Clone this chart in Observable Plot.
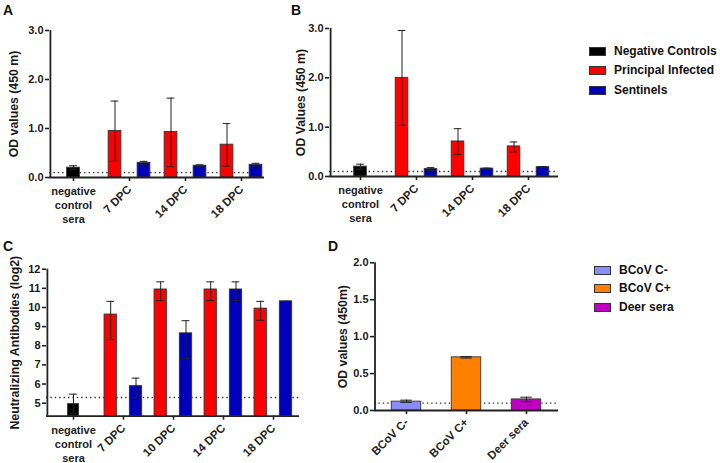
<!DOCTYPE html>
<html><head><meta charset="utf-8">
<script src="https://cdn.jsdelivr.net/npm/d3@7"></script>
<script src="https://cdn.jsdelivr.net/npm/@observablehq/plot@0.6"></script>
<style>
body{margin:0;background:#fff;}
#root{position:relative;width:720px;height:463px;font-family:"Liberation Sans",Arial,sans-serif;font-weight:bold;overflow:hidden;background:#fff;color:#111;}
.panel{position:absolute;}
.letter{position:absolute;font-size:14px;font-weight:bold;line-height:14px;}
.lrow{position:absolute;font-size:12px;font-weight:bold;line-height:12px;white-space:nowrap;color:#111;}
.lrow .sw{position:absolute;width:15px;height:7px;border:1px solid #333;}
.panel svg [aria-label*="axis"] line,.panel svg [aria-label*="axis"] path{stroke-width:1.6px;stroke:#222;}
</style></head><body><div id="root"></div>
<script>
// ---------- data ----------
const groupsAB = ["negative\ncontrol\nsera", "7 DPC", "14 DPC", "18 DPC"];
const groupsC = ["negative\ncontrol\nsera", "7 DPC", "10 DPC", "14 DPC", "18 DPC"];
const seriesNames = ["Negative Controls", "Principal Infected", "Sentinels"];
const seriesColors = ["#000000", "#ff0000", "#0000b8"];

// Panel A  OD values (450 m)
const aNeg = [0.20], aNegLo = [0.17], aNegHi = [0.24];
const aPrin = [0.95, 0.93, 0.67], aPrinLo = [0.33, 0.22, 0.23], aPrinHi = [1.56, 1.62, 1.10];
const aSent = [0.30, 0.24, 0.26], aSentLo = [0.27, 0.22, 0.23], aSentHi = [0.33, 0.26, 0.29];
const aCutoff = 0.1;

// Panel B  OD Values (450 m)
const bNeg = [0.20], bNegLo = [0.15], bNegHi = [0.25];
const bPrin = [2.00, 0.71, 0.61], bPrinLo = [1.04, 0.45, 0.50], bPrinHi = [2.96, 0.97, 0.70];
const bSent = [0.15, 0.16, 0.19], bSentLo = [0.12, 0.15, 0.18], bSentHi = [0.18, 0.17, 0.20];
const bCutoff = 0.1;

// Panel C  Neutralizing Antibodies (log2)
const cNeg = [4.95], cNegLo = [4.45], cNegHi = [5.47];
const cPrin = [9.63, 10.94, 10.94, 9.94], cPrinLo = [8.32, 10.36, 10.36, 9.33], cPrinHi = [10.32, 11.34, 11.34, 10.32];
const cSent = [5.89, 8.65, 10.94, 10.32], cSentLo = [5.28, 7.32, 10.36, 10.32], cSentHi = [6.31, 9.31, 11.34, 10.32];
const cCutoff = 5.3;
const cAxisMin = 4.32;

// Panel D  OD values (450m)
const dCats = ["BCoV C-", "BCoV C+", "Deer sera"];
const dVals = [0.12, 0.72, 0.15], dLo = [0.11, 0.71, 0.12], dHi = [0.14, 0.73, 0.18];
const dColors = ["#8c8cf6", "#ff8000", "#c000c0"];
const dCutoff = 0.1;

// tick labels
const yTicksAB = [0, 1, 2, 3];
const yTicksC = [5, 6, 7, 8, 9, 10, 11, 12];
const yTicksD = [0, 0.5, 1, 1.5, 2];

// ---------- helpers ----------
const root = document.getElementById("root");
const FONT = "Liberation Sans, Arial, sans-serif";

function rowsOf(groups, mean, lo, hi) {
  return groups.map((g, i) => ({g, v: mean[i], lo: lo[i], hi: hi[i]}));
}

function makePanel(cfg) {
  const {left, top, width, height, mt, mb, ml, mr, groups, yDomain, yTicks, yFmt,
         yLabel, labelDx, labelDy = 0, cutoff, po, series, capW, rotateAll} = cfg;
  const plotW = width - ml - mr;
  const step = plotW / (groups.length + 2 * po);
  const base = yDomain[0];
  const marks = [];
  marks.push(Plot.ruleY([cutoff], {stroke: "#333", strokeWidth: 1.4, strokeDasharray: "1.4,3"}));
  for (const s of series) {
    const data = rowsOf(s.groups, s.mean, s.lo, s.hi).map((d, i) => ({...d, c: s.colors ? s.colors[i] : s.color}));
    const ins = (step - s.barW) / 2;
    const cins = (step - capW) / 2;
    marks.push(Plot.barY(data, {x: "g", y1: () => base, y2: "v", fill: "c", stroke: "#333", strokeWidth: 0.9,
      dx: s.dx, insetLeft: ins, insetRight: ins}));
    marks.push(Plot.ruleX(data, {x: "g", y1: "lo", y2: "hi", dx: s.dx, stroke: "#222", strokeWidth: 1}));
    marks.push(Plot.tickY(data, {x: "g", y: "hi", dx: s.dx, stroke: "#222", strokeWidth: 1, insetLeft: cins, insetRight: cins}));
    marks.push(Plot.tickY(data, {x: "g", y: "lo", dx: s.dx, stroke: "#222", strokeWidth: 1, insetLeft: cins, insetRight: cins}));
  }
  // axis lines
  marks.push(Plot.ruleY([base], {stroke: "#222", strokeWidth: 1.8}));
  marks.push(Plot.ruleX(groups.slice(0, 1), {x: d => d, dx: -step * (po + 0.5), stroke: "#222", strokeWidth: 1.8}));
  // x tick labels
  if (rotateAll) {
    marks.push(Plot.text(groups, {x: d => d, frameAnchor: "bottom", rotate: -45, textAnchor: "end",
      lineAnchor: "middle", dx: 0, dy: 10, fontSize: 11.5, fontWeight: "bold", fill: "#222"}));
  } else {
    marks.push(Plot.text(groups.slice(0, 1), {x: d => d, frameAnchor: "bottom", textAnchor: "middle",
      lineAnchor: "top", lineHeight: 1.27, dy: 8, fontSize: 11, fontWeight: "bold", fill: "#222"}));
    marks.push(Plot.text(groups.slice(1), {x: d => d, frameAnchor: "bottom", rotate: -45, textAnchor: "end",
      lineAnchor: "middle", dx: 0, dy: 10, fontSize: 11.5, fontWeight: "bold", fill: "#222"}));
  }
  // y axis title
  marks.push(Plot.text([yLabel], {frameAnchor: "left", rotate: -90, textAnchor: "middle", lineAnchor: "middle",
    dx: labelDx, dy: labelDy, fontSize: 12.3, fontWeight: "bold", fill: "#1a1a1a"}));

  const chart = Plot.plot({
    width, height, marginTop: mt, marginBottom: mb, marginLeft: ml, marginRight: mr,
    style: {fontFamily: FONT, fontSize: "11px", fontWeight: "bold", color: "#1a1a1a", background: "transparent", overflow: "visible"},
    x: {type: "band", domain: groups, paddingInner: 0, paddingOuter: po, align: 0.5, tickSize: 4,
        tickFormat: () => "", label: null},
    y: {domain: yDomain, ticks: yTicks, tickFormat: yFmt, tickSize: 4, tickPadding: 2, label: null},
    color: {type: "identity"},
    marks
  });
  const div = document.createElement("div");
  div.className = "panel";
  div.style.left = left + "px";
  div.style.top = top + "px";
  div.appendChild(chart);
  root.appendChild(div);
}

function letter(t, x, y) {
  const d = document.createElement("div");
  d.className = "letter"; d.textContent = t;
  d.style.left = x + "px"; d.style.top = y + "px";
  root.appendChild(d);
}

function legend(names, colors, x, y0, gap) {
  names.forEach((n, i) => {
    const r = document.createElement("div");
    r.className = "lrow";
    r.style.left = x + "px";
    r.style.top = (y0 + i * gap - 6) + "px";
    const sw = document.createElement("span");
    sw.className = "sw"; sw.style.background = colors[i];
    sw.style.left = "0px"; sw.style.top = "2px";
    const tx = document.createElement("span");
    tx.textContent = n; tx.style.marginLeft = "25px";
    r.appendChild(sw); r.appendChild(tx);
    root.appendChild(r);
  });
}

// ---------- panels ----------
makePanel({
  left: 0, top: 0, width: 290, height: 230, mt: 30, mb: 53, ml: 49, mr: 26,
  groups: groupsAB, yDomain: [0, 3], yTicks: yTicksAB, yFmt: d3.format(".1f"),
  yLabel: "OD values (450 m)", labelDx: -35, cutoff: aCutoff, po: -0.09, capW: 8,
  series: [
    {groups: groupsAB.slice(0, 1), mean: aNeg, lo: aNegLo, hi: aNegHi, color: seriesColors[0], dx: 0, barW: 13},
    {groups: groupsAB.slice(1), mean: aPrin, lo: aPrinLo, hi: aPrinHi, color: seriesColors[1], dx: -14.5, barW: 13},
    {groups: groupsAB.slice(1), mean: aSent, lo: aSentLo, hi: aSentHi, color: seriesColors[2], dx: 14.5, barW: 13}
  ]
});

makePanel({
  left: 285, top: 0, width: 290, height: 230, mt: 28, mb: 54, ml: 44, mr: 17,
  groups: groupsAB, yDomain: [0, 3], yTicks: yTicksAB, yFmt: d3.format(".1f"),
  yLabel: "OD Values (450 m)", labelDx: -28, cutoff: bCutoff, po: 0.03, capW: 8,
  series: [
    {groups: groupsAB.slice(0, 1), mean: bNeg, lo: bNegLo, hi: bNegHi, color: seriesColors[0], dx: 0, barW: 13},
    {groups: groupsAB.slice(1), mean: bPrin, lo: bPrinLo, hi: bPrinHi, color: seriesColors[1], dx: -14.5, barW: 13},
    {groups: groupsAB.slice(1), mean: bSent, lo: bSentLo, hi: bSentHi, color: seriesColors[2], dx: 14.5, barW: 13}
  ]
});

makePanel({
  left: 0, top: 225, width: 330, height: 238, mt: 43.7, mb: 47.3, ml: 46, mr: 31,
  groups: groupsC, yDomain: [cAxisMin, 12], yTicks: yTicksC, yFmt: d3.format("d"),
  yLabel: "Neutralizing Antibodies (log2)", labelDx: -31, cutoff: cCutoff, po: 0.02, capW: 8,
  series: [
    {groups: groupsC.slice(0, 1), mean: cNeg, lo: cNegLo, hi: cNegHi, color: seriesColors[0], dx: 0, barW: 11},
    {groups: groupsC.slice(1), mean: cPrin, lo: cPrinLo, hi: cPrinHi, color: seriesColors[1], dx: -12.8, barW: 12.5},
    {groups: groupsC.slice(1), mean: cSent, lo: cSentLo, hi: cSentHi, color: seriesColors[2], dx: 12.5, barW: 12.5}
  ]
});

makePanel({
  left: 330, top: 225, width: 260, height: 238, mt: 37.3, mb: 53, ml: 44, mr: 32,
  groups: dCats, yDomain: [0, 2], yTicks: yTicksD, yFmt: d3.format(".1f"),
  yLabel: "OD values (450m)", labelDx: -31, cutoff: dCutoff, po: 0.02, capW: 12, rotateAll: true,
  series: [
    {groups: dCats, mean: dVals, lo: dLo, hi: dHi, colors: dColors, dx: 0, barW: 30}
  ]
});

letter("A", 3, 3);
letter("B", 291, 3);
letter("C", 3, 239);
letter("D", 328, 239);

legend(seriesNames, seriesColors, 589, 51, 19.3);
legend(dCats, dColors, 594, 270, 18.3);
</script></body></html>
